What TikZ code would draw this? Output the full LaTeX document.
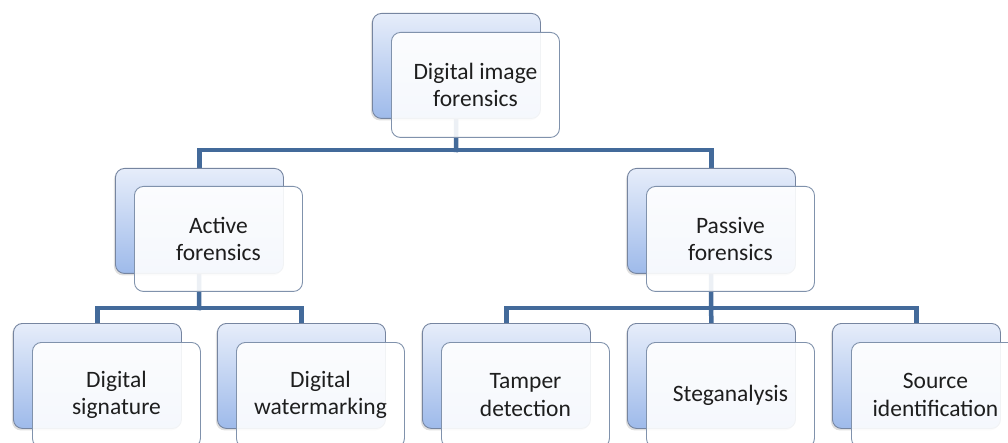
\documentclass[tikz,border=0pt]{standalone}
\usepackage{fontspec}
\setmainfont{Carlito}
\usetikzlibrary{backgrounds,shadows}
\definecolor{conncol}{RGB}{67,106,154}
\definecolor{backtop}{RGB}{230,237,250}
\definecolor{backbot}{RGB}{158,186,234}
\definecolor{backdraw}{RGB}{118,133,160}
\definecolor{frontdraw}{RGB}{128,146,172}
\definecolor{txt}{RGB}{30,30,30}
\tikzset{
  backbox/.style={rectangle, rounded corners=9pt, anchor=north west, inner sep=0pt,
    minimum width=168pt, minimum height=105pt, draw=backdraw, line width=0.9pt,
    top color=backtop, bottom color=backbot,
    drop shadow={shadow xshift=-1.5pt, shadow yshift=-2pt, opacity=0.25}},
  frontbox/.style={rectangle, rounded corners=9pt, anchor=north west, inner sep=0pt,
    minimum width=168pt, minimum height=105pt, draw=frontdraw, line width=0.9pt,
    fill=white, fill opacity=0.9, text opacity=1, text=txt,
    font=\fontsize{23.5pt}{27.5pt}\selectfont, align=center},
  conn/.style={draw=conncol, line width=4.5pt, line join=miter, line cap=rect}
}
\begin{document}
\begin{tikzpicture}[x=1pt,y=-1pt]
\clip (0,0) rectangle (1008,443);
\useasboundingbox (0,0) rectangle (1008,443);
% level 1
\node[backbox] (b0) at (372,13) {};
\node[frontbox] (f0) at (391,32) {Digital image\\forensics};
% level 2
\node[backbox] (bA) at (115,168) {};
\node[frontbox] (fA) at (134,186) {Active\\forensics};
\node[backbox] (bP) at (627,168) {};
\node[frontbox] (fP) at (646,186) {Passive\\forensics};
% level 3
\node[backbox] (bDS) at (13,323) {};
\node[frontbox] (fDS) at (32,342) {Digital\\signature};
\node[backbox] (bDW) at (217,323) {};
\node[frontbox] (fDW) at (236,342) {Digital\\watermarking};
\node[backbox] (bT) at (422,323) {};
\node[frontbox] (fT) at (441,342) {Tamper\\detection};
\node[backbox] (bS) at (627,323) {};
\node[frontbox] (fS) at (646,342) {Steganalysis};
\node[backbox] (bSo) at (832,323) {};
\node[frontbox] (fSo) at (851,342) {Source\\identification};
% hubs
\coordinate (h0) at (456,150);
\coordinate (hA) at (199,308);
\coordinate (hP) at (711,308);
\begin{pgfonlayer}{background}
\draw[conn] (b0.center) -- (h0);
\draw[conn] (bA.north) |- (h0) -| (bP.north);
\draw[conn] (bA.center) -- (hA);
\draw[conn] (bDS.north) |- (hA) -| (bDW.north);
\draw[conn] (bP.center) -- (hP);
\draw[conn] (bT.north) |- (hP) -| (bSo.north);
\draw[conn] (hP) -- (bS.north);
\end{pgfonlayer}
\end{tikzpicture}
\end{document}
